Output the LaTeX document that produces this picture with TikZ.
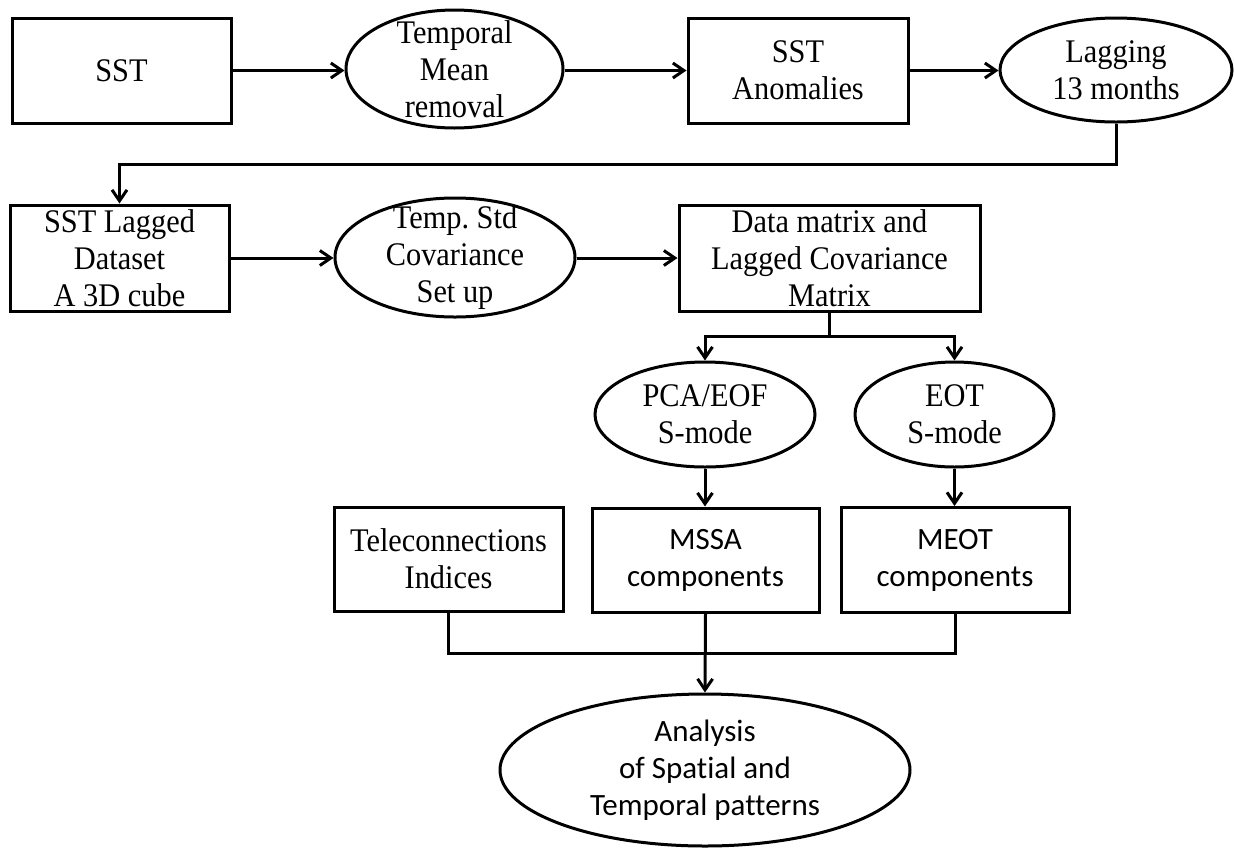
\documentclass[tikz,border=0pt]{standalone}
\usepackage{fontspec}
\setmainfont{Liberation Serif}[FakeStretch=0.92]
\newfontfamily\calfont{Carlito}[Ligatures={NoCommon}]
\usetikzlibrary{shapes.geometric,arrows.meta}
\frenchspacing
\begin{document}
\begin{tikzpicture}[x=1pt,y=-1pt,
  base/.style={draw=black, line width=3pt, inner sep=0pt, align=center, font=\frenchspacing\fontsize{33}{37}\selectfont},
  boxnode/.style={base, rectangle},
  ovalnode/.style={base, ellipse},
  cal/.style={font=\calfont\fontsize{31}{37}\selectfont},
  lbl/.style={align=center, inner sep=0pt, font=\frenchspacing\fontsize{33}{37}\selectfont},
  lblcal/.style={align=center, inner sep=0pt, font=\calfont\fontsize{31}{37}\selectfont},
  link/.style={line width=3pt},
  arr/.style={link, -{Straight Barb[length=11pt,width=15pt]}}]
\useasboundingbox (0,0) rectangle (1234,847);

% row 1
\node[boxnode, minimum width=219pt, minimum height=105pt] (sst) at (121.5,70.5) {SST};
\node[ovalnode, minimum width=217pt, minimum height=118pt,
      label={[lbl]center:Temporal\\Mean\\removal}] (tmr) at (454.5,69) {};
\node[boxnode, minimum width=220pt, minimum height=105pt] (anom) at (798,70.5) {SST\\Anomalies};
\node[ovalnode, minimum width=232pt, minimum height=104pt,
      label={[lbl]center:Lagging\\13 months}] (lag) at (1116,70) {};

% row 2
\node[boxnode, minimum width=219pt, minimum height=106pt] (lagged) at (119.5,258) {SST Lagged\\Dataset\\A 3D cube};
\node[ovalnode, minimum width=240pt, minimum height=119pt,
      label={[lbl]center:Temp. Std\\Covariance\\Set up}] (tsc) at (455,257.5) {};
\node[boxnode, minimum width=301pt, minimum height=106pt] (dm) at (829.5,258) {Data matrix and\\Lagged Covariance\\Matrix};

% row 3
\node[ovalnode, minimum width=220pt, minimum height=105pt,
      label={[lbl]center:PCA/EOF\\S-mode}] (pca) at (705,414.5) {};
\node[ovalnode, minimum width=199pt, minimum height=105pt,
      label={[lbl]center:EOT\\S-mode}] (eot) at (954.5,414.5) {};

% row 4
\node[boxnode, minimum width=229pt, minimum height=104pt] (tele) at (448.5,559) {Teleconnections\\Indices};
\node[boxnode, cal, minimum width=227pt, minimum height=104pt] (mssa) at (705.5,560) {MSSA\\components};
\node[boxnode, cal, minimum width=228pt, minimum height=105pt] (meot) at (955,560) {MEOT\\components};

% row 5
\node[ovalnode, minimum width=410pt, minimum height=152pt,
      label={[lblcal]center:Analysis\\of Spatial and\\Temporal patterns}] (ana) at (705,770) {};

% connectors
\draw[arr] (sst.east) -- (sst.east -| tmr.west);
\draw[arr] (tmr.east |- anom.west) -- (anom.west);
\draw[arr] (anom.east) -- (anom.east -| lag.west);
\draw[arr] (lag.south) -- ++(0,41) -| (lagged.north);
\draw[arr] (lagged.east) -- (lagged.east -| tsc.west);
\draw[arr] (tsc.east |- dm.west) -- (dm.west);
\draw[link] (dm.south) -- ++(0,24) coordinate (split);
\draw[arr] (split) -| (pca.north);
\draw[arr] (split) -| (eot.north);
\draw[arr] (pca.south) -- (mssa.north -| pca.south);
\draw[arr] (eot.south) -- (meot.north -| eot.south);
\coordinate (join) at (705.5,653);
\draw[link] (tele.south) |- (join);
\draw[link] (meot.south) |- (join);
\draw[arr] (mssa.south) -- (ana.north);
\end{tikzpicture}
\end{document}
